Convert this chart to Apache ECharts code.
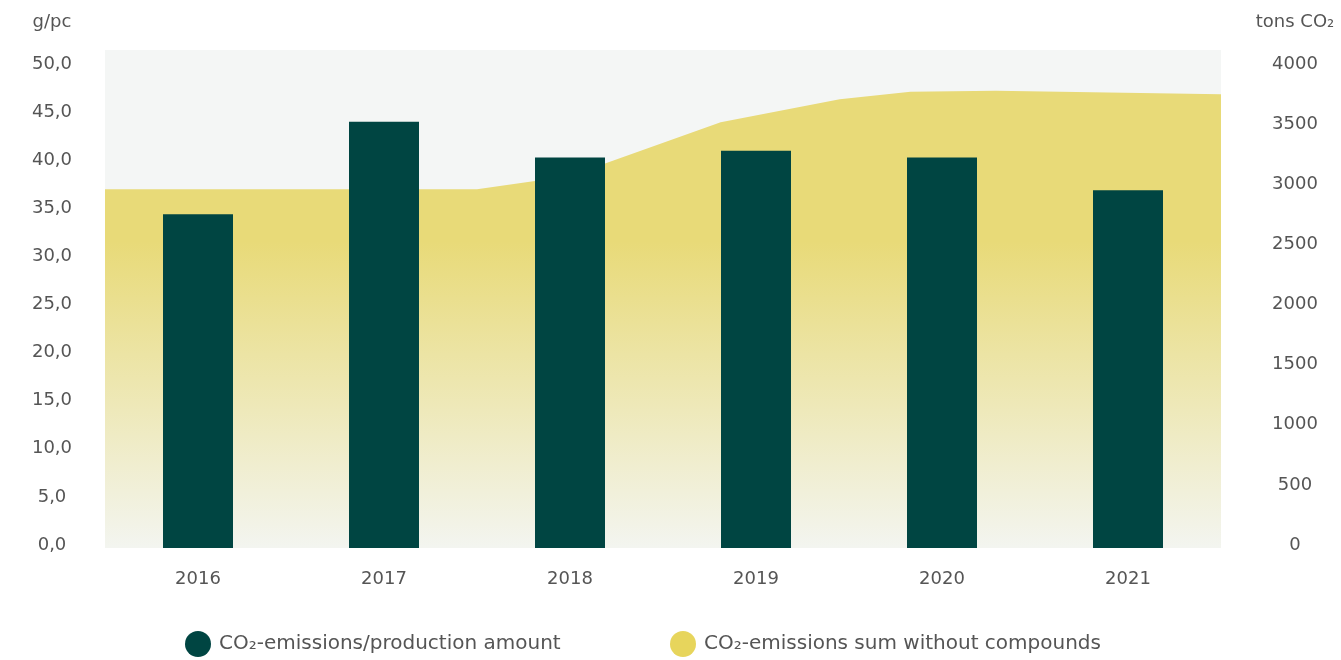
<!DOCTYPE html>
<html>
<head>
<meta charset="utf-8">
<script src="https://cdn.jsdelivr.net/npm/echarts@6/dist/echarts.min.js"></script>
<style>
html,body{margin:0;padding:0;background:#fff;}
#chart{width:1341px;height:660px;}
</style>
</head>
<body>
<div id="chart"></div>
<script>
// ---- data ----
const categories = ['2016', '2017', '2018', '2019', '2020', '2021'];
const intensity = [34.7, 44.3, 40.6, 41.3, 40.6, 37.2];           // g/pc
const sumYears = [2015.5, 2017.5, 2018.0, 2018.81, 2019.45, 2019.83, 2020.29, 2021.5];
const sumValues = [2983, 2983, 3094, 3540, 3731, 3795, 3803, 3773]; // tons CO2
const leftTicks = ['0,0', '5,0', '10,0', '15,0', '20,0', '25,0', '30,0', '35,0', '40,0', '45,0', '50,0'];
const rightTicks = ['0', '500', '1000', '1500', '2000', '2500', '3000', '3500', '4000'];
const seriesNames = ['CO₂-emissions/production amount', 'CO₂-emissions sum without compounds'];
const axisNames = ['g/pc', 'tons CO₂'];

const FONT = 'DejaVu Sans';
const TXT = '#555555';

const chart = echarts.init(document.getElementById('chart'));
chart.setOption({
  animation: false,
  backgroundColor: '#ffffff',
  textStyle: { fontFamily: FONT },
  grid: {
    left: 105, right: 120, top: 50, bottom: 112,
    show: true, backgroundColor: '#f4f6f5', borderWidth: 0
  },
  graphic: [
    { type: 'text', x: 52, y: 22, style: { text: axisNames[0], fill: TXT, font: '18px "DejaVu Sans"', textAlign: 'center', textVerticalAlign: 'middle' } },
    { type: 'text', x: 1295, y: 22, style: { text: axisNames[1], fill: TXT, font: '18px "DejaVu Sans"', textAlign: 'center', textVerticalAlign: 'middle' } }
  ],
  legend: [
    { data: [seriesNames[0]], left: 180, top: 626, icon: 'circle', itemWidth: 26, itemHeight: 26,
      textStyle: { color: TXT, fontSize: 20, fontFamily: FONT, padding: [0, 0, 0, 3] } },
    { data: [seriesNames[1]], left: 665, top: 626, icon: 'circle', itemWidth: 26, itemHeight: 26,
      textStyle: { color: TXT, fontSize: 20, fontFamily: FONT, padding: [0, 0, 0, 3] } }
  ],
  xAxis: [
    {
      type: 'category', data: categories, boundaryGap: true,
      axisLine: { show: false }, axisTick: { show: false },
      axisLabel: { color: TXT, fontSize: 18, fontFamily: FONT, margin: 22 }
    },
    { type: 'value', min: 2015.5, max: 2021.5, show: false }
  ],
  yAxis: [
    {
      type: 'value', min: 0, max: 51.77, interval: 5, position: 'left',
      axisLine: { show: false }, axisTick: { show: false }, splitLine: { show: false },
      axisLabel: {
        color: TXT, fontSize: 18, fontFamily: FONT, align: 'center', margin: 53,
        showMaxLabel: false, verticalAlign: 'bottom', lineHeight: 6,
        formatter: v => { const i = Math.round(v / 5); return Math.abs(v - i * 5) < 1e-6 && leftTicks[i] ? leftTicks[i] : ''; }
      }
    },
    {
      type: 'value', min: 0, max: 4141.6, interval: 500, position: 'right',
      axisLine: { show: false }, axisTick: { show: false }, splitLine: { show: false },
      axisLabel: {
        color: TXT, fontSize: 18, fontFamily: FONT, align: 'center', margin: 74,
        showMaxLabel: false, verticalAlign: 'bottom', lineHeight: 6,
        formatter: v => { const i = Math.round(v / 500); return Math.abs(v - i * 500) < 1e-6 && rightTicks[i] ? rightTicks[i] : ''; }
      }
    }
  ],
  series: [
    {
      name: seriesNames[1], type: 'line', xAxisIndex: 1, yAxisIndex: 1, z: 1,
      data: sumYears.map((y, i) => [y, sumValues[i]]),
      symbol: 'none', smooth: false,
      itemStyle: { color: '#e7d55c' },
      lineStyle: { width: 0 },
      areaStyle: {
        opacity: 1,
        color: new echarts.graphic.LinearGradient(0, 0, 0, 1, [
          { offset: 0, color: '#e8da78' },
          { offset: 0.33, color: '#e8da78' },
          { offset: 1, color: '#f3f5f0' }
        ])
      }
    },
    {
      name: seriesNames[0], type: 'bar', xAxisIndex: 0, yAxisIndex: 0, z: 3,
      data: intensity, barWidth: 70,
      itemStyle: { color: '#004542' }
    }
  ]
});
</script>
</body>
</html>
